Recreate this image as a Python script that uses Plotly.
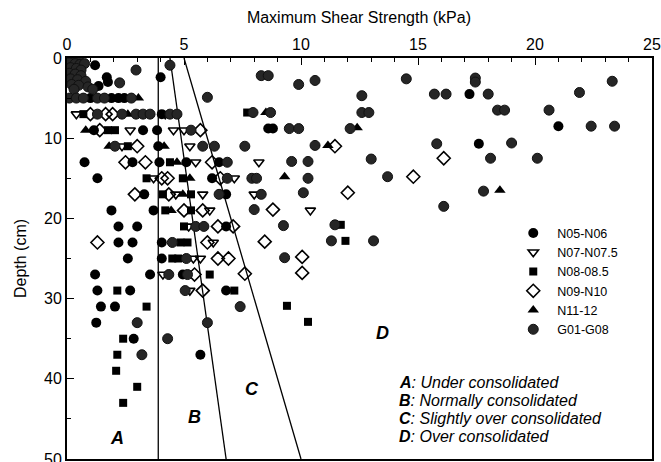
import plotly.graph_objects as go

# Shear strength (kPa) vs depth (cm) per core group
n05_x = [1.2, 4.0, 1.7, 1.75, 1.35, 1.0, 1.9, 2.2, 2.45, 4.05, 1.15, 3.25, 3.85, 8.6, 8.8,
         21.0, 17.2, 3.9, 0.75, 2.8, 3.95, 5.1, 6.5, 1.3, 6.2, 3.3, 6.8, 1.9, 3.7, 2.2, 3.0,
         6.8, 2.2, 2.8, 4.05, 2.6, 4.05, 1.2, 3.55, 4.95, 1.3, 2.7, 6.8, 1.45, 2.05, 1.25,
         2.85, 5.7, 17.6]
n05_y = [0.9, 2.4, 2.4, 3.0, 3.5, 5.0, 5.0, 5.0, 5.0, 7.0, 9.0, 9.0, 9.0, 8.8, 8.8,
         8.5, 4.5, 11.0, 13.0, 13.0, 13.0, 13.0, 13.0, 15.0, 15.0, 17.0, 17.0, 19.0, 19.0, 21.0, 21.0,
         21.0, 23.0, 23.0, 23.0, 25.0, 25.0, 27.0, 27.0, 27.0, 29.0, 29.0, 29.0, 31.0, 31.0, 33.0,
         35.0, 37.0, 10.7]

n07_x = [0.4, 4.2, 2.7, 4.55, 5.0, 2.35, 5.25, 5.5, 8.2, 3.7, 7.15, 4.65, 5.8, 8.0, 6.1,
         10.4, 5.2, 6.25, 5.4, 5.7, 4.1, 5.25]
n07_y = [7.0, 7.0, 9.0, 9.0, 9.0, 11.0, 11.0, 13.0, 13.0, 15.0, 15.0, 17.0, 17.0, 17.0, 19.0,
         19.0, 21.0, 23.0, 25.0, 25.0, 27.0, 29.0]

n08_x = [0.7, 7.7, 1.75, 2.05, 2.6, 4.4, 3.4, 4.95, 4.1, 5.3, 4.2, 5.3, 5.0, 11.7, 4.85, 5.15,
         11.9, 4.5, 4.75, 6.1, 2.15, 7.15, 3.4, 9.4, 10.3, 2.4, 2.15, 2.1, 3.0, 2.4]
n08_y = [7.0, 6.8, 9.0, 9.0, 11.0, 13.0, 15.0, 15.0, 17.0, 17.0, 19.0, 19.0, 21.0, 20.8, 23.0, 23.0,
         22.8, 25.0, 25.0, 27.0, 29.0, 29.0, 31.0, 30.9, 32.9, 35.0, 37.0, 39.0, 41.0, 43.0]

n09_x = [1.0, 1.65, 1.95, 1.4, 5.7, 3.0, 11.45, 2.5, 3.35, 6.2, 16.1, 4.05, 4.3, 6.55, 14.8,
         2.9, 4.35, 12.0, 5.0, 5.8, 8.8, 6.45, 7.1, 1.3, 6.0, 8.45, 6.45, 6.9, 10.05, 5.45, 7.6,
         10.05, 5.8]
n09_y = [7.0, 7.0, 7.0, 9.0, 9.0, 11.0, 11.0, 13.0, 13.0, 13.0, 12.5, 15.0, 15.0, 15.0, 14.8,
         17.0, 17.0, 16.8, 19.0, 19.0, 18.9, 21.0, 21.0, 23.0, 23.0, 22.9, 25.0, 25.0, 24.8, 27.0, 26.9,
         26.8, 29.0]

n11_x = [3.05, 2.6, 8.5, 0.8, 12.4, 1.8, 4.15, 11.15, 4.7, 5.25, 9.3, 4.95, 18.5, 4.45]
n11_y = [5.0, 7.0, 6.8, 9.0, 8.7, 11.0, 11.0, 10.9, 13.0, 15.0, 14.8, 17.0, 16.5, 19.0]

g01_x = [0.1, 0.3, 0.5, 0.1, 0.35, 0.55, 0.75, 0.15, 0.4, 0.6, 0.1, 0.35, 0.6, 0.15, 0.45,
         0.8, 0.2, 0.5, 0.9, 0.3, 1.1, 2.95, 4.4, 2.25, 8.3, 8.6, 9.9, 10.6, 14.5, 17.45, 17.45,
         23.3, 12.6, 15.7, 16.2, 18.0, 21.9, 0.1, 0.4, 0.7, 1.3, 1.6, 2.75, 6.0,
         1.3, 2.35, 2.95, 3.25, 3.55, 4.4, 4.7, 7.95, 8.7, 12.6, 12.9, 18.4, 18.7, 20.6,
         5.3, 9.5, 9.9, 12.1, 22.4, 23.4, 2.05, 5.8, 6.3, 7.6, 10.6, 15.8, 19.0,
         6.85, 9.6, 10.3, 13.0, 18.1, 20.1, 6.85, 7.9, 8.1, 10.3, 13.7,
         6.5, 8.3, 10.1, 17.8, 8.0, 16.1, 5.5, 5.85, 9.25, 11.45, 4.5, 11.3, 13.1,
         5.1, 9.3, 4.35, 5.15, 5.05, 7.4, 3.0, 6.0, 4.3, 3.2]
g01_y = [0.2, 0.2, 0.3, 0.6, 0.7, 0.8, 0.7, 1.2, 1.3, 1.5, 1.9, 2.0, 2.2, 2.6, 2.7,
         2.9, 3.3, 3.4, 3.6, 3.9, 3.9, 1.5, 0.9, 3.1, 2.2, 2.2, 3.3, 2.8, 2.6, 2.5, 3.0,
         2.9, 4.7, 4.5, 4.5, 4.5, 4.3, 5.0, 5.0, 5.0, 5.0, 5.0, 5.0, 4.9,
         7.0, 7.0, 7.0, 7.0, 7.0, 7.0, 7.0, 6.8, 6.8, 6.8, 6.8, 6.5, 6.5, 6.5,
         9.0, 8.8, 8.8, 8.8, 8.5, 8.5, 11.0, 11.0, 11.0, 11.0, 10.9, 10.7, 10.6,
         13.0, 12.9, 12.9, 12.6, 12.5, 12.5, 15.0, 15.0, 15.0, 15.0, 14.8,
         17.0, 17.0, 16.8, 16.6, 18.9, 18.5, 21.0, 21.0, 20.9, 20.8, 23.0, 22.8, 22.8,
         25.0, 24.9, 27.0, 27.0, 29.0, 31.0, 33.0, 33.0, 35.0, 37.0]

# Consolidation boundaries: (strength at 0 cm, strength at 50 cm)
boundary_depth = [0, 50]
boundary_ab = [3.9, 3.9]
boundary_bc = [4.4, 6.8]
boundary_cd = [5.0, 10.0]

region_labels = ["A", "B", "C", "D"]
region_x = [2.15, 5.45, 7.9, 13.5]
region_y = [47.4, 44.8, 41.3, 34.3]

class_keys = ["A", "B", "C", "D"]
class_names = ["Under consolidated", "Normally consolidated",
               "Slightly over consolidated", "Over consolidated"]

FONT = "Liberation Sans, Arial, sans-serif"

fig = go.Figure()

for bx in (boundary_ab, boundary_bc, boundary_cd):
    fig.add_trace(go.Scatter(x=bx, y=boundary_depth, mode="lines",
                             line=dict(color="black", width=1.3),
                             showlegend=False, hoverinfo="skip"))

series = [
    ("N05-N06", n05_x, n05_y, dict(symbol="circle", size=10, color="black")),
    ("N07-N07.5", n07_x, n07_y, dict(symbol="triangle-down-open", size=9, color="black",
                                     line=dict(width=1.6, color="black"))),
    ("N08-08.5", n08_x, n08_y, dict(symbol="square", size=8, color="black")),
    ("N09-N10", n09_x, n09_y, dict(symbol="diamond-open", size=10, color="black",
                                   line=dict(width=1.6, color="black"))),
    ("N11-12", n11_x, n11_y, dict(symbol="triangle-up", size=10, color="black")),
    ("G01-G08", g01_x, g01_y, dict(symbol="circle", size=10, color="#262626",
                                   line=dict(width=1, color="#111"))),
]
for name, xs, ys, mk in series:
    fig.add_trace(go.Scatter(x=xs, y=ys, mode="markers", name=name, marker=mk))

for lab, lx, ly in zip(region_labels, region_x, region_y):
    fig.add_annotation(x=lx, y=ly, text=f"<b><i>{lab}</i></b>", showarrow=False,
                       font=dict(family=FONT, size=18, color="black"))

# Classification key, one line per region
for i, (k, n) in enumerate(zip(class_keys, class_names)):
    fig.add_annotation(x=14.1, y=40.5 + i * 2.25, xanchor="left", yanchor="middle",
                       text=f"<b><i>{k}</i></b><i>: {n}</i>", showarrow=False,
                       font=dict(family=FONT, size=16, color="black"))

fig.update_layout(
    width=661, height=462,
    margin=dict(l=67, r=9, t=58, b=3),
    paper_bgcolor="white", plot_bgcolor="white",
    font=dict(family=FONT, size=15, color="black"),
    title=dict(text="Maximum Shear Strength (kPa)", x=0.543, xanchor="center",
               y=0.962, yanchor="middle", font=dict(size=16)),
    legend=dict(x=0.756, y=0.6, xanchor="left", yanchor="top", itemwidth=38,
                bgcolor="rgba(0,0,0,0)", font=dict(size=12.5), tracegroupgap=0),
    showlegend=True,
)
fig.update_xaxes(side="top", range=[0, 25], tick0=0, dtick=5, ticks="inside", ticklen=7,
                 tickwidth=1.2, tickcolor="black", showline=True, linecolor="black",
                 linewidth=1.8, mirror=True, showgrid=False, zeroline=False,
                 minor=dict(dtick=1, ticks="inside", ticklen=4, tickcolor="black"),
                 tickfont=dict(size=16), ticklabeloverflow="allow", automargin=False)
fig.update_yaxes(autorange=False, range=[50, 0], tick0=0, dtick=10, ticks="inside", ticklen=7,
                 tickwidth=1.2, tickcolor="black", showline=True, linecolor="black",
                 linewidth=1.8, mirror=True, showgrid=False, zeroline=False,
                 minor=dict(dtick=5, ticks="inside", ticklen=4, tickcolor="black"),
                 title=dict(text="Depth (cm)", font=dict(size=16), standoff=14),
                 tickfont=dict(size=16), ticklabeloverflow="allow", automargin=False)

fig.write_html("out.html")
